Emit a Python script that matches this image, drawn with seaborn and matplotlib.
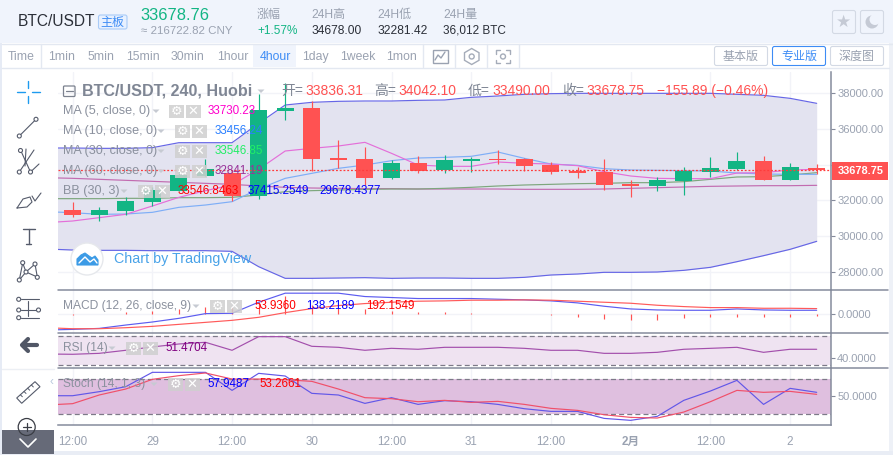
import numpy as np
import matplotlib
matplotlib.use("Agg")
import matplotlib.pyplot as plt
from matplotlib.patches import Rectangle, Circle, Polygon, FancyBboxPatch
import seaborn as sns

# candles, one every 4 hours
opens = [31462, 31181, 31406, 31929, 32547, 33389, 33519, 32247, 37018, 37205, 34361, 34324, 33258, 34099, 33707,
         34212, 34305, 34324, 33987, 33650, 33594, 32921, 32809, 33089, 33594, 33763, 34212, 33145, 33836.31]
highs = [31892, 31612, 32210, 32771, 33800, 34324, 33707, 37972, 38589, 37579, 35390, 34979, 34268, 34492, 34548,
         34436, 34810, 34361, 34155, 33875, 34324, 33145, 33314, 33875, 34436, 34717, 34492, 34099, 34042.10]
lows = [31088, 30863, 31181, 31705, 32547, 33389, 31986, 32098, 36512, 33650, 33800, 32865, 33202, 33538, 33538,
        33594, 34043, 33650, 33482, 33258, 32584, 32191, 32528, 32304, 33314, 33707, 33145, 33145, 33490.00]
closes = [31181, 31462, 31967, 32584, 33426, 33763, 32247, 37074, 37205, 34324, 34268, 33258, 34099, 33650, 34268,
          34324, 34249, 33931, 33594, 33538, 32865, 32809, 33145, 33650, 33819, 34212, 33145, 33875, 33678.75]
last_price = 33678.75

# indicators, these start one candle left of the visible window
ma5 = [30751, 30845, 31032, 31219, 31686, 32173, 32547, 32865, 33744, 34773, 34922, 35053, 35259, 34642, 33987,
       33912, 33912, 34156, 34081, 34043, 33950, 33613, 33370, 33239, 33220, 33220, 33538, 33557, 33707, 33744]
ma10 = [31368, 31312, 31219, 31237, 31331, 31611, 31742, 31929, 32640, 33239, 33519, 33800, 33987, 34230, 34380,
        34417, 34474, 34717, 34361, 34043, 33968, 33781, 33707, 33688, 33669, 33650, 33538, 33482, 33463, 33463]
ma30 = [32098, 32098, 32098, 32117, 32117, 32154, 32154, 32173, 32304, 32491, 32547, 32584, 32622, 32640, 32640,
        32678, 32734, 32809, 32865, 32902, 32940, 32958, 32996, 32996, 33052, 33183, 33314, 33332, 33426, 33557]
ma60 = [33276, 33239, 33183, 33127, 33071, 33014, 32958, 32902, 32809, 32734, 32696, 32678, 32659, 32659, 32640,
        32640, 32640, 32640, 32622, 32622, 32622, 32640, 32678, 32715, 32753, 32790, 32809, 32827, 32827, 32846]
bb_up = [34941, 34941, 34922, 34922, 34960, 35240, 35240, 35240, 36325, 37354, 37504, 37560, 37579, 37579, 37616,
         37635, 37784, 37859, 37953, 37990, 38009, 38009, 38009, 38009, 38009, 38009, 37953, 37897, 37728, 37448]
bb_low = [29273, 29217, 29198, 29198, 29180, 29180, 29180, 29142, 28282, 27627, 27627, 27646, 27665, 27627, 27646,
          27646, 27627, 27627, 27683, 27814, 27870, 27964, 27964, 27983, 28076, 28244, 28562, 28899, 29255, 29703]
macd = [-536, -513, -479, -365, -262, -137, 23, 34, 410, 718, 718, 718, 604, 570, 536,
        536, 536, 513, 490, 456, 388, 274, 182, 148, 137, 137, 182, 148, 137, 137]
signal = [-456, -490, -490, -456, -410, -342, -274, -205, -103, 57, 194, 296, 365, 410, 445,
          456, 479, 479, 490, 479, 445, 410, 376, 308, 262, 228, 228, 205, 205, 194]
hist = [-34, 0, 91, 114, 171, 262, 262, 433, 627, 319, 228, 182, 114, 68, 68,
        46, 10, 0, -34, -80, -148, -182, -182, -137, -103, -80, -80, -80, -46]
rsi = [45.6, 45.2, 46.5, 50.7, 55.3, 59.4, 61.7, 50.7, 69.5, 69.5, 56.2, 54.8, 50.7, 53.4, 52.1,
       54.8, 54.8, 54.8, 53.4, 50.7, 50.7, 46.5, 46.5, 47.9, 52.1, 53.4, 54.8, 47.9, 52.1, 52.1]
stoch_k = [51.3, 51.3, 58.1, 66.5, 90.7, 90.7, 90.7, 60.3, 89.0, 84.5, 55.3, 52.5, 38.4, 48.0, 36.7,
           42.9, 41.2, 36.7, 29.4, 24.9, 24.9, 13.1, 9.8, 16.5, 43.5, 59.2, 77.2, 36.7, 63.7, 57.0]
stoch_d = [35.6, 37.9, 52.5, 62.6, 78.9, 85.1, 89.6, 79.4, 79.4, 78.3, 75.5, 62.6, 48.0, 46.3, 41.2,
           43.5, 40.1, 41.8, 36.7, 30.0, 26.6, 19.3, 14.8, 13.7, 23.8, 41.2, 60.3, 57.0, 58.6, 53.6]

time_labels = ["12:00", "29", "12:00", "30", "12:00", "31", "12:00", "2月", "12:00", "2"]
price_ticks = [28000, 30000, 32000, 34000, 36000, 38000]
# the 34000 label sits behind the last price tag
price_labels = ["28000.00", "30000.00", "32000.00", "", "36000.00", "38000.00"]

UP = "#12b584"
DOWN = "#ff5252"
AXIS = "#858b9c"
GRID = "#f2f3f8"
GREY = "#9aa2b1"
LABEL = "#8b919e"

W, H = 893, 455

sns.set_style("white")
plt.rcParams["font.family"] = ["Liberation Sans", "Noto Sans CJK SC", "DejaVu Sans"]
plt.rcParams["axes.unicode_minus"] = False

fig = plt.figure(figsize=(W / 100, H / 100), dpi=100, facecolor="white")


def px_axes(left, top, right, bottom, zorder=1):
    a = fig.add_axes([left / W, 1 - bottom / H, (right - left) / W, (bottom - top) / H], zorder=zorder)
    a.patch.set_alpha(0)
    return a


# chrome in pixel coordinates, under and over the panes
bg = px_axes(0, 0, W, H, 0)
top = px_axes(0, 0, W, H, 10)
for a in (bg, top):
    a.set_xlim(0, W)
    a.set_ylim(H, 0)
    a.axis("off")


def txt(x, y, s, color=GREY, px=12, ha="left", weight="normal", ax=top, **kw):
    ax.text(x, y, s, color=color, fontsize=px * 0.72, ha=ha, va="center", fontweight=weight, **kw)


def box(x0, y0, x1, y1, fc="none", ec="none", lw=0.8, ax=bg, r=0):
    if r:
        ax.add_patch(FancyBboxPatch((x0, y0), x1 - x0, y1 - y0, boxstyle="round,pad=0,rounding_size=%s" % r,
                                    fc=fc, ec=ec, lw=lw))
    else:
        ax.add_patch(Rectangle((x0, y0), x1 - x0, y1 - y0, fc=fc, ec=ec, lw=lw))


def seg(pts, color="#555b6b", lw=0.8, ax=bg):
    xs, ys = zip(*pts)
    ax.plot(xs, ys, color=color, lw=lw, solid_capstyle="round")


def dot(x, y, r=2, color="#555b6b", ax=bg):
    ax.add_patch(Circle((x, y), r, fc="white", ec=color, lw=0.8, zorder=5))


# page background
box(0, 0, W, 43, fc="#f0f4fc")
box(0, 43, 2, H, fc="#e6ebf5")
box(889, 43, W, H, fc="#eef1f7")
box(0, 451, W, H, fc="#e9edf5")
seg([(2, 43.5), (W, 43.5)], "#e3e8f1", 1)
seg([(2, 67.5), (889, 67.5)], "#e3e8f1", 1)

# header
txt(18, 22, "BTC/USDT", "#2b2f38", 15.5)
box(98.5, 15, 127, 29, fc="#e8f1ff", ec="#a9cbf7", r=2)
txt(112.7, 22.5, "主板", "#3d8cf5", 12, ha="center")
txt(140, 15, "33678.76", UP, 16.5)
txt(141, 30.5, "≈ 216722.82 CNY", GREY, 11.5)
txt(257, 15, "涨幅", GREY, 12)
txt(257, 30.5, "+1.57%", UP, 11.8)
txt(311, 15, "24H高", GREY, 12)
txt(311, 30.5, "34678.00", "#2b2f38", 12)
txt(377, 15, "24H低", GREY, 12)
txt(377, 30.5, "32281.42", "#2b2f38", 12)
txt(443, 15, "24H量", GREY, 12)
txt(443, 30.5, "36,012 BTC", "#2b2f38", 11.8)
box(832.5, 10.5, 855.5, 33.5, fc="#f0f4fc", ec="#d3d9e4", r=2)
box(860.5, 10.5, 883.5, 33.5, fc="#f0f4fc", ec="#d3d9e4", r=2)
txt(844, 22, "★", "#c5cad5", 17, ha="center", family="DejaVu Sans")
bg.add_patch(Circle((872, 22), 6.5, fc="#c5cad5", ec="none"))
bg.add_patch(Circle((875, 19.5), 5.5, fc="#f0f4fc", ec="none"))

# toolbar
box(253, 44, 296, 67, fc="#f0f4fc")
periods = [("Time", 8), ("1min", 48), ("5min", 87), ("15min", 126), ("30min", 171), ("1hour", 217),
           ("1day", 302), ("1week", 340), ("1mon", 386)]
for name, x in periods:
    txt(x, 56.7, name, GREY, 12.2)
txt(260, 56.7, "4hour", "#3d8cf5", 12.2)
for x in (41, 423, 455, 487, 519):
    seg([(x, 44), (x, 67)], "#e3e8f1", 1)
box(432.5, 49.5, 447.5, 62.5, ec="#9aa2b1", lw=1)
seg([(435, 60), (438, 55), (441, 58), (445, 52)], "#9aa2b1", 1)
bg.add_patch(Polygon([(471.7, 48.5), (479, 52.7), (479, 60.3), (471.7, 64.5), (464.5, 60.3), (464.5, 52.7)],
                     fc="none", ec="#a5acb9", lw=1))
bg.add_patch(Circle((471.7, 56.5), 2.5, fc="none", ec="#a5acb9", lw=1))
for sx, sy in ((1, 1), (-1, 1), (1, -1), (-1, -1)):
    seg([(503 + sx * 7, 56.5 + sy * 3), (503 + sx * 7, 56.5 + sy * 6.5), (503 + sx * 3, 56.5 + sy * 6.5)], "#a5acb9", 1)
bg.add_patch(Circle((503, 56.5), 2.5, fc="none", ec="#a5acb9", lw=1))
box(714.5, 46.5, 767.5, 65.5, fc="white", ec="#d3d9e4", r=2)
box(772.5, 46.5, 825.5, 65.5, fc="white", ec="#3d8cf5", r=2)
box(830.5, 46.5, 883.5, 65.5, fc="white", ec="#d3d9e4", r=2)
txt(741, 56.5, "基本版", GREY, 12, ha="center")
txt(799, 56.5, "专业版", "#3d8cf5", 12, ha="center")
txt(857, 56.5, "深度图", GREY, 12, ha="center")

# panes
x_candles = np.arange(len(closes))
x_lines = np.arange(-1, len(closes))
x_ticks = np.arange(len(time_labels)) * 3
xlim = (-0.55, 28.55)

main = px_axes(58, 72, 831.3, 290.3)
macd_ax = px_axes(58, 290.3, 831.3, 333.3)
rsi_ax = px_axes(58, 333.3, 831.3, 368.3)
stoch_ax = px_axes(58, 368.3, 831.3, 425.3)

for a in (main, macd_ax, rsi_ax, stoch_ax):
    a.set_xlim(xlim)
    a.set_xticks(x_ticks)
    a.grid(True, color=GRID, lw=1)
    a.set_axisbelow(True)
    for name in ("top", "left", "bottom"):
        a.spines[name].set_visible(False)
    a.spines["right"].set_color(AXIS)
    a.spines["right"].set_linewidth(1.1)
    a.yaxis.tick_right()
    a.tick_params(axis="y", right=True, left=False, length=3, width=0.8, color=AXIS, labelcolor=GREY,
                  labelsize=8, pad=1.2)
    a.tick_params(axis="x", bottom=False, labelbottom=False)

# main pane
main.set_ylim(26956, 39206)
main.set_yticks(price_ticks)
main.set_yticklabels(price_labels)
main.fill_between(x_lines, bb_low, bb_up, color="#e3e3f0", lw=0, zorder=1)
sns.lineplot(x=x_lines, y=bb_up, ax=main, color="#6666e6", lw=0.85, zorder=2)
sns.lineplot(x=x_lines, y=bb_low, ax=main, color="#6666e6", lw=0.85, zorder=2)
sns.lineplot(x=x_lines, y=ma60, ax=main, color="#c26bb0", lw=0.85, zorder=2)
sns.lineplot(x=x_lines, y=ma30, ax=main, color="#7da77d", lw=0.85, zorder=2)
sns.lineplot(x=x_lines, y=ma10, ax=main, color="#7eaef7", lw=0.85, zorder=2)
sns.lineplot(x=x_lines, y=ma5, ax=main, color="#e46fd9", lw=0.85, zorder=2)

colors = [UP if c >= o else DOWN for o, c in zip(opens, closes)]
main.vlines(x_candles, lows, highs, colors=colors, lw=0.85, zorder=3, clip_on=False)
body_low = [min(o, c) for o, c in zip(opens, closes)]
body_size = [abs(c - o) for o, c in zip(opens, closes)]
main.bar(x_candles, body_size, bottom=body_low, width=0.64, color=colors, lw=0, zorder=3)
main.axhline(last_price, color="#ff3b3b", lw=0.9, ls=(0, (1.5, 1.5)), zorder=4)

# macd pane
macd_ax.set_ylim(-646, 816)
macd_ax.set_yticks([0])
macd_ax.set_yticklabels(["0.0000"])
macd_ax.vlines(x_candles, 0, hist, colors=DOWN, lw=0.85, zorder=2)
sns.lineplot(x=x_lines, y=macd, ax=macd_ax, color="#5c5cf0", lw=0.85, zorder=3)
sns.lineplot(x=x_lines, y=signal, ax=macd_ax, color="#ff5a5a", lw=0.85, zorder=3)

# rsi pane
rsi_ax.set_ylim(25.9, 74.1)
rsi_ax.set_yticks([40])
rsi_ax.set_yticklabels(["40.0000"])
rsi_ax.axhspan(30, 70, color="#efe3f1", lw=0, zorder=1)
for level in (30, 70):
    rsi_ax.axhline(level, color="#7d7a88", lw=0.9, ls=(0, (4, 2.5)), zorder=2)
sns.lineplot(x=x_lines, y=rsi, ax=rsi_ax, color="#a34fac", lw=0.85, zorder=3)

# stochastic pane
stoch_ax.set_ylim(1.45, 97.5)
stoch_ax.set_yticks([50])
stoch_ax.set_yticklabels(["50.0000"])
stoch_ax.axhspan(20, 80, color="#dfbfdf", lw=0, zorder=1)
for level in (20, 80):
    stoch_ax.axhline(level, color="#7d7a88", lw=0.9, ls=(0, (4, 2.5)), zorder=2)
sns.lineplot(x=x_lines, y=stoch_k, ax=stoch_ax, color="#6257e8", lw=0.85, zorder=3)
sns.lineplot(x=x_lines, y=stoch_d, ax=stoch_ax, color="#f0506a", lw=0.85, zorder=3)
stoch_ax.spines["bottom"].set_visible(True)
stoch_ax.spines["bottom"].set_color(AXIS)
stoch_ax.spines["bottom"].set_linewidth(1.1)
stoch_ax.tick_params(axis="x", labelbottom=True, labelsize=8.4, labelcolor=GREY, pad=4)
stoch_ax.set_xticklabels(time_labels)
stoch_ax.get_xticklabels()[7].set_fontweight("bold")
for a in (main, macd_ax, rsi_ax, stoch_ax):
    a.set_xlabel("")
    a.set_ylabel("")

# pane separators run past the price scale
for y in (290.3, 333.3, 368.3):
    seg([(58, y), (888, y)], AXIS, 1.1, ax=top)

# last price tag
box(831.7, 161.7, 888, 180, fc=DOWN, ax=top)
txt(838, 170.8, "33678.75", "white", 11, weight="bold")

# legend rows over the main pane
box(63.5, 86, 75, 96.5, ec="#7b818e", lw=0.9, ax=top, r=1)
seg([(66, 91.2), (72.5, 91.2)], "#7b818e", 0.9, ax=top)
txt(82, 91, "BTC/USDT, 240, Huobi", "#7f8694", 16.1, weight="bold")


def caret(x, y):
    top.add_patch(Polygon([(x - 3.5, y - 1.5), (x + 3.5, y - 1.5), (x, y + 2)], fc="#c6cad2", ec="none"))


caret(261, 91)
o_x = [(281, "开=", 305, "33836.31"), (374, "高=", 398, "34042.10"), (468, "低=", 492.7, "33490.00"),
       (561.7, "收=", 586, "33678.75")]
for x0, name, x1, val in o_x:
    txt(x0, 91, name, "#7f8694", 13.9)
    txt(x1, 91, val, DOWN, 13.9)
txt(657, 91, "−155.89 (−0.46%)", DOWN, 13.9)


def buttons(x, y):
    for i, ch in enumerate(["⚙", "✕"]):
        x0 = x + i * 17
        top.add_patch(Rectangle((x0, y - 6.5), 14.5, 13, fc="#cfcfcf", ec="none", alpha=0.85))
        txt(x0 + 7.2, y, ch, "white", 13, ha="center", family="DejaVu Sans")


rows = [("MA (5, close, 0)", 111, 156, 169, [("33730.23", 208, "#ff00cc")]),
        ("MA (10, close, 0)", 131, 161, 175, [("33456.24", 214.5, "#2a7fff")]),
        ("MA (30, close, 0)", 151, 161, 175, [("33546.85", 214.5, "#22ee66")]),
        ("MA (60, close, 0)", 171, 161, 175, [("32841.19", 214.5, "#993399")]),
        ("BB (30, 3)", 191, 124, 138, [("33546.8463", 177.5, "#ff0000"), ("37415.2549", 248, "#0000ff"),
                                        ("29678.4377", 319, "#0000ff")])]
for name, y, cx, bx, vals in rows:
    txt(63, y, name, "#8b919e", 12.6)
    caret(cx, y)
    buttons(bx, y)
    for val, vx, col in vals:
        txt(vx, y, val, col, 11.6)

# lower pane legends
lower_y = 306
txt(63, lower_y, "MACD (12, 26, close, 9)", LABEL, 12)
caret(196, lower_y)
buttons(210, lower_y)
txt(254, lower_y, "53.9360", "#ff0000", 11.6)
txt(306, lower_y, "138.2189", "#0000ff", 11.6)
txt(366, lower_y, "192.1549", "#ff0000", 11.6)
txt(63, 348, "RSI (14)", LABEL, 12)
caret(112, 348)
buttons(126, 348)
txt(165.5, 348, "51.4704", "#800080", 11.6)
txt(63, 384, "Stoch (14, 1, 3)", LABEL, 12)
caret(154, 384)
buttons(168, 384)
txt(207.5, 384, "57.9487", "#0000ff", 11.6)
txt(259.5, 384, "53.2661", "#ff0000", 11.6)

# tradingview badge
top.add_patch(Circle((87, 259), 16, fc="white", ec="#e6e8ec", lw=1))
top.add_patch(Polygon([(77, 265), (77, 259), (81, 255), (85, 253), (89, 256), (92, 258), (95, 256), (98, 260),
                       (98, 265)], fc="#3c9be6", ec="#3c9be6", lw=0.8))
seg([(79, 263), (85, 257), (90, 262), (94, 259), (97, 263)], "white", 1, ax=top)
txt(114, 259, "Chart by TradingView", "#4aa3e8", 14.2)

# left drawing tools
seg([(28.3, 81), (28.3, 88.3)], "#1e9bef", 1)
seg([(28.3, 96), (28.3, 103.3)], "#1e9bef", 1)
seg([(17.3, 92.3), (25, 92.3)], "#1e9bef", 1)
seg([(31.7, 92.3), (40, 92.3)], "#1e9bef", 1)
seg([(19.3, 136), (36, 119.3)])
dot(19.3, 136)
dot(36, 119.3)
seg([(19.3, 172), (34, 150)])
seg([(20.5, 150), (30.5, 172)])
seg([(30.5, 172), (39, 164)])
seg([(25, 166), (26, 149)])
for x, y in ((20.5, 150.5), (19.3, 172), (30.5, 172)):
    dot(x, y)
seg([(17, 208), (23, 199), (30, 197), (32, 202), (27, 207), (17, 208)])
seg([(32, 196), (35, 201), (41, 193)])
seg([(22.5, 228.5), (35, 228.5)], lw=1)
seg([(28.7, 228.5), (28.7, 244)], lw=1)
seg([(26, 244), (31, 244)], lw=1)
seg([(19.3, 280), (22.7, 263), (26, 272), (35, 264), (37.3, 277), (26, 272), (19.3, 280)])
for x, y in ((22.7, 262.7), (35, 264), (19.3, 280), (37.3, 277.3), (26, 272)):
    dot(x, y)
for y, x0, x1 in ((299.3, 21, 39), (310, 21, 36), (317.7, 21, 39)):
    seg([(x0, y), (x1, y)])
for x, y in ((18.7, 299.3), (18.7, 310), (18.7, 317.7), (38.5, 310)):
    dot(x, y)
seg([(28.3, 301), (28.3, 316)])
bg.add_patch(Polygon([(26.5, 304), (30, 304), (28.3, 301)], fc="#555b6b"))
bg.add_patch(Polygon([(26.5, 313), (30, 313), (28.3, 316)], fc="#555b6b"))
seg([(23, 345), (37, 345)], "#515766", 3)
seg([(28, 339), (22, 345), (28, 351)], "#515766", 3)
seg([(2, 368.5), (54, 368.5)], "#eceff4", 1)
bg.add_patch(Polygon([(16.7, 398), (35, 381.7), (40, 386.7), (21.7, 403.3)], fc="none", ec="#555b6b", lw=0.8))
for f in (0.2, 0.4, 0.6, 0.8):
    x0, y0 = 16.7 + f * 18.3, 398 - f * 16.3
    seg([(x0, y0), (x0 + 2, y0 + 2)], lw=0.7)
txt(52, 382, "‹", "#b9c8dd", 12, ha="center")
box(2, 430, 54, 454, fc="#666a78", ax=top)
top.add_patch(Circle((26.7, 427), 8.5, fc="none", ec="#3a3d45", lw=0.9))
seg([(22.5, 427), (31, 427)], "#3a3d45", 0.9, ax=top)
seg([(26.7, 423), (26.7, 431)], "#3a3d45", 0.9, ax=top)
seg([(20, 439), (28, 447), (36, 439)], "white", 1.2, ax=top)

fig.savefig("out.png", dpi=100)
